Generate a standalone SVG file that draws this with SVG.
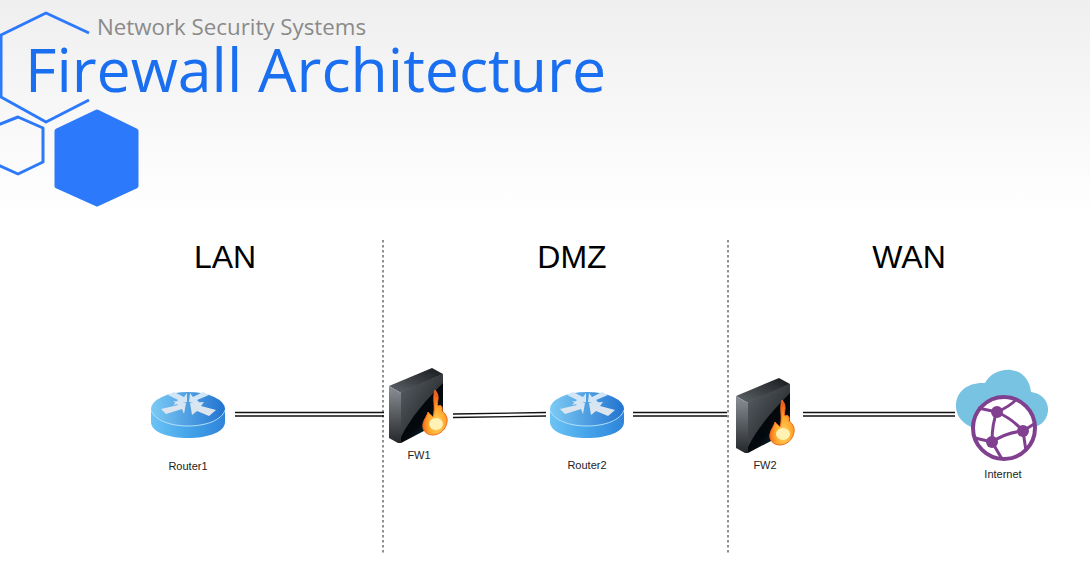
<svg xmlns="http://www.w3.org/2000/svg" width="1090" height="570" viewBox="0 0 1090 570">
<style>
.hex{fill:none;stroke:#2d79fb;stroke-width:3;stroke-linejoin:round;stroke-linecap:butt}
.zone{font:32px "Liberation Sans",Arial,sans-serif;fill:#000;text-anchor:middle}
.lbl{font:11px "Liberation Sans",Arial,sans-serif;fill:#222;text-anchor:middle}
.div{stroke:#222;stroke-width:1;stroke-dasharray:2.5 2.5;fill:none}
.wire{stroke:#111;stroke-width:1.3;fill:none}
.arrow{fill:url(#rarrow)}
</style>
<defs>
<linearGradient id="bg" x1="0" y1="0" x2="0" y2="1"><stop offset="0" stop-color="#efefef"/><stop offset="1" stop-color="#ffffff"/></linearGradient>
<linearGradient id="rside" x1="0" y1="0" x2="1" y2="0"><stop offset="0" stop-color="#6cc3f4"/><stop offset=".5" stop-color="#45a4ea"/><stop offset="1" stop-color="#2f84da"/></linearGradient>
<linearGradient id="rtop" x1="0" y1="0" x2="1" y2="0"><stop offset="0" stop-color="#7ccbf5"/><stop offset="1" stop-color="#2273d0"/></linearGradient>
<linearGradient id="rarrow" gradientUnits="userSpaceOnUse" x1="0" y1="-16" x2="0" y2="6"><stop offset="0" stop-color="#cfe6f8"/><stop offset="1" stop-color="#dfe5ec"/></linearGradient>
<linearGradient id="ffront" x1=".2" y1="0" x2=".9" y2="1"><stop offset="0" stop-color="#020304"/><stop offset=".6" stop-color="#03090d"/><stop offset="1" stop-color="#0e4a66"/></linearGradient>
<linearGradient id="fgloss" x1="0" y1="0" x2="1" y2="1"><stop offset="0" stop-color="#5a6066"/><stop offset="1" stop-color="#15181b"/></linearGradient>
<linearGradient id="ftop" x1="0" y1="1" x2="1" y2="0"><stop offset="0" stop-color="#5f656b"/><stop offset="1" stop-color="#17191c"/></linearGradient>
<linearGradient id="fleft" x1="0" y1="0" x2="0" y2="1"><stop offset="0" stop-color="#8b9096"/><stop offset="1" stop-color="#24272b"/></linearGradient>
<radialGradient id="flame" cx=".58" cy=".75" r=".62"><stop offset="0" stop-color="#ffd860"/><stop offset=".6" stop-color="#ffa32a"/><stop offset="1" stop-color="#f4601a"/></radialGradient>
<g id="router">
<path d="M-37 0V13C-37 23-20 29 0 29S37 23 37 13V0Z" fill="url(#rside)"/>
<ellipse cx="0" cy="0" rx="37" ry="17" fill="url(#rtop)"/>
<path d="M-37 1C-34 11-18 17 0 17S34 11 37 1" fill="none" stroke="#b4e0f8" stroke-width="1"/>
<path class="arrow" d="M-1-7L-15-4-10-9-20-14-14-17-4-12-1-16Z"/>
<path class="arrow" d="M-2-6L-15-8-10-4-27 0-22 5-6 0-4 5Z"/>
<path class="arrow" d="M1-7L14-4 9-9 21-14 15-17 5-12 2-16Z"/>
<path class="arrow" d="M2-6L4 6 9 2 21 7 28 1 13-3 16-7Z"/>
</g>
<g id="firewall">
<path d="M0 17L43-1 54 5 12 24Z" fill="url(#ftop)"/>
<path d="M0 17L12 24V74L9 74 0 69Z" fill="url(#fleft)"/>
<path d="M12 24L54 5V52L12 74Z" fill="url(#ffront)"/>
<path d="M12 24L54 5V14C38 30 22 48 12 68Z" fill="url(#fgloss)"/>
<path d="M46 21C52 28 47 33 49 37 52 35 54 38 53 42 56 44 59 48 58 53 57 61 50 66 44 66 37 66 33 61 34 55 35 50 38 47 39 43 41 45 43 47 44 48 47 38 43 30 46 21Z" fill="url(#flame)" stroke="#f26a1f" stroke-width="1"/>
<ellipse cx="47" cy="55" rx="7" ry="6" fill="#fff2b4"/>
</g>
</defs>
<rect width="1090" height="215" fill="url(#bg)"/>
<rect y="215" width="1090" height="355" fill="#fff"/>
<g id="decor">
<path class="hex" d="M89 33L46 13 1 35V97L46 122 89 100"/>
<path class="hex" d="M-2 125L18 117 43 128V162L18 174-2 165"/>
<path d="M97 112L136 131V186L97 204 57 186V131Z" fill="#2d79fb" stroke="#2d79fb" stroke-width="5" stroke-linejoin="round"/>
</g>
<g id="title">
<text x="97" y="35" font-family="Open Sans, sans-serif" font-size="22.3" fill="#8a8a8a">Network Security Systems</text>
<text x="25" y="92" font-family="Open Sans, sans-serif" font-size="60.8" fill="#1a6ff0">Firewall Architecture</text>
</g>
<g id="zones">
<text class="zone" x="225" y="268">LAN</text>
<text class="zone" x="572" y="268">DMZ</text>
<text class="zone" x="909" y="268">WAN</text>
<line class="div" x1="383" y1="240" x2="383" y2="555"/>
<line class="div" x1="728" y1="240" x2="728" y2="555"/>
</g>
<g id="connectors">
<path class="wire" d="M235 412.5H384M235 416H384"/>
<path class="wire" d="M453 414L546 412.5M453 417.5L546 416"/>
<path class="wire" d="M633 412.5H727M633 416H727"/>
<path class="wire" d="M803 412.5H955M803 416H955"/>
</g>
<g id="router1"><use href="#router" x="188" y="409"/><text class="lbl" x="188" y="470">Router1</text></g>
<g id="fw1"><use href="#firewall" x="389" y="369"/><text class="lbl" x="419" y="459">FW1</text></g>
<g id="router2"><use href="#router" x="587" y="409"/><text class="lbl" x="587" y="469">Router2</text></g>
<g id="fw2"><use href="#firewall" x="736" y="379"/><text class="lbl" x="765" y="469">FW2</text></g>
<g id="internet">
<path d="M975 428C962 425 955 414 956 404 957 391 968 382 985 383 990 374 1000 369 1011 370 1022 371 1030 380 1031 392 1041 393 1049 401 1048 411 1047 422 1038 428 1028 428Z" fill="#78c3e2"/>
<circle cx="1004" cy="428" r="31" fill="#fff" stroke="#80408f" stroke-width="4"/>
<g fill="none" stroke="#80408f" stroke-width="3">
<path d="M997 412C1006 416 1016 423 1023 431M1023 431C1012 432 1001 436 992 442M997 412C993 421 992 431 992 442M997 412L978 408M997 412C1004 409 1011 405 1017 399M1023 431L1034 424M1023 431L1026 451M992 442L975 438M992 442L1002 459"/>
</g>
<g fill="#80408f"><circle cx="997" cy="412" r="6"/><circle cx="1023" cy="431" r="6"/><circle cx="992" cy="442" r="6"/></g>
<text class="lbl" x="1003" y="478">Internet</text>
</g>
</svg>
